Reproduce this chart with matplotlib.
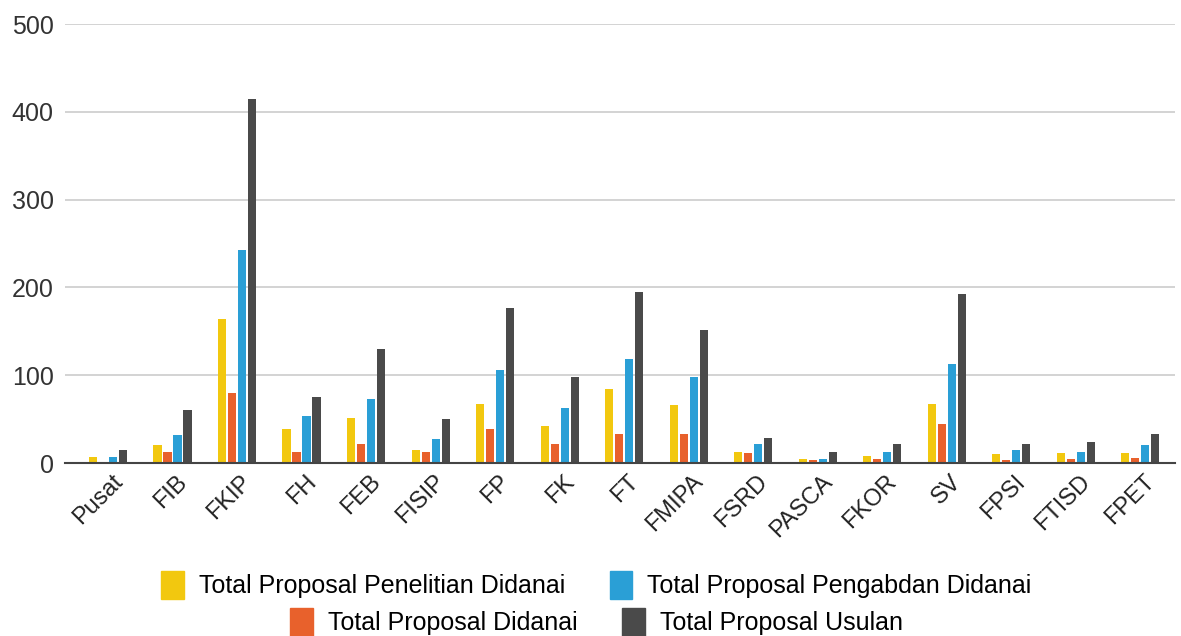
import numpy as np
import matplotlib.pyplot as plt
import matplotlib.transforms as mtransforms
from matplotlib.patches import Patch

# data
fakultas = ['Pusat', 'FIB', 'FKIP', 'FH', 'FEB', 'FISIP', 'FP', 'FK', 'FT',
            'FMIPA', 'FSRD', 'PASCA', 'FKOR', 'SV', 'FPSI', 'FTISD', 'FPET']
penelitian_didanai = [7, 20, 164, 39, 51, 15, 67, 42, 84, 66, 12, 4, 8, 67, 10, 11, 11]
proposal_didanai = [0, 12, 80, 12, 22, 12, 39, 22, 33, 33, 11, 3, 5, 45, 3, 4, 6]
pengabdan_didanai = [7, 32, 243, 54, 73, 27, 106, 63, 118, 98, 22, 5, 12, 113, 15, 12, 20]
proposal_usulan = [15, 60, 415, 75, 130, 50, 177, 98, 195, 151, 29, 12, 22, 193, 22, 24, 33]

label_seri = ['Total Proposal Penelitian Didanai', 'Total Proposal Didanai',
              'Total Proposal Pengabdan Didanai', 'Total Proposal Usulan']
warna = ['#F2C80F', '#E8612C', '#2A9FD6', '#4A4A4A']

plt.rcParams['font.family'] = ['Liberation Sans', 'DejaVu Sans']

fig = plt.figure(figsize=(11.81, 6.36), dpi=100)
ax = fig.add_axes([0.055, 0.272, 0.94, 0.69])

x = np.arange(len(fakultas))
lebar = 0.13
jarak = 0.155
seri = [penelitian_didanai, proposal_didanai, pengabdan_didanai, proposal_usulan]
for i, nilai in enumerate(seri):
    ax.bar(x + (i - 1.5) * jarak, nilai, lebar, color=warna[i], zorder=3)

ax.set_ylim(0, 500)
ax.set_xlim(-0.67, 16.54)
ax.set_yticks([0, 100, 200, 300, 400, 500])
ax.yaxis.grid(True, color='#cccccc', linewidth=1.2, zorder=0)
ax.tick_params(axis='y', length=0, labelsize=18, colors='#333333', pad=8)
ax.tick_params(axis='x', length=0, labelsize=17, colors='#222222', pad=14)
ax.set_xticks(x)
ax.set_xticklabels(fakultas, rotation=45, ha='right', va='center',
                   rotation_mode='anchor')
# geser label sedikit ke kanan atas
geser = mtransforms.ScaledTranslation(11 / 100, 4 / 100, fig.dpi_scale_trans)
for lbl in ax.get_xticklabels():
    lbl.set_transform(lbl.get_transform() + geser)
for s in ['top', 'right', 'left']:
    ax.spines[s].set_visible(False)
ax.spines['bottom'].set_color('#444444')
ax.spines['bottom'].set_linewidth(1.5)
ax.spines['bottom'].set_zorder(4)

# legend dua baris, masing-masing di tengah
baris1 = [Patch(color=warna[0]), Patch(color=warna[2])]
baris2 = [Patch(color=warna[1]), Patch(color=warna[3])]
leg1 = fig.legend(baris1, [label_seri[0], label_seri[2]], ncol=2, loc='center',
                  bbox_to_anchor=(0.505, 0.08), frameon=False, fontsize=18,
                  handlelength=0.9, handleheight=1.3, handletextpad=0.6,
                  columnspacing=1.8)
fig.legend(baris2, [label_seri[1], label_seri[3]], ncol=2, loc='center',
           bbox_to_anchor=(0.505, 0.022), frameon=False, fontsize=18,
           handlelength=0.9, handleheight=1.3, handletextpad=0.6,
           columnspacing=1.8)

fig.savefig('out.png', dpi=100)
